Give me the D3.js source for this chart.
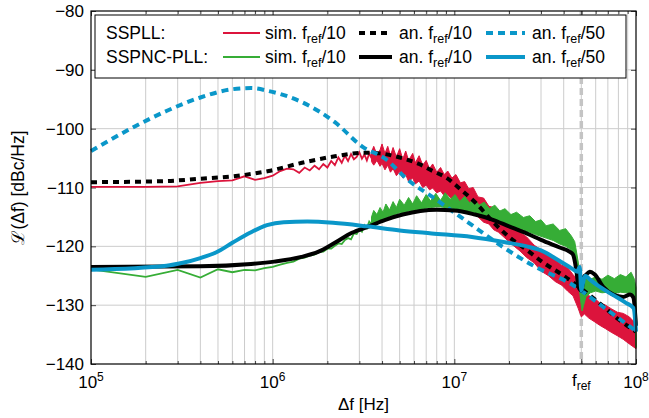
<!DOCTYPE html>
<meta charset="utf-8">
<script src="https://d3js.org/d3.v7.min.js"></script>
<style>
  body { margin: 0; background: #fff; }
  text { font-family: "Liberation Sans", Arial, sans-serif; fill: #000; }
</style>
<div id="my_dataviz"></div>
<script>

// ---- data ----
var fref = 5e7;

// axis ticks
var yTicks = [-140, -130, -120, -110, -100, -90, -80];
var xDecades = [1e5, 1e6, 1e7, 1e8];
var xExp = ["5", "6", "7", "8"];

// SSPLL, analytic, fref/50 (blue dashed)
var fBlueDash = [1e5, 1.7e5, 2.6e5, 4e5, 6e5, 7.6e5, 9.5e5, 1.45e6, 2.2e6, 3.1e6, 4.2e6, 5.5e6, 7.9e6, 1.2e7, 1.85e7, 2.8e7, 4.4e7, 6.6e7, 1e8];
var blueDash  = [-103.8, -99.8, -97.0, -94.7, -93.3, -93.1, -93.6, -95.5, -98.9, -103.0, -105.2, -108.6, -112.0, -116.0, -120.1, -123.5, -126.4, -130.3, -134.4];

// SSPLL, analytic, fref/10 (black dashed)
var fBlackDash = [1e5, 2.6e5, 4e5, 6e5, 9.5e5, 1.45e6, 2.2e6, 3.2e6, 3.9e6, 4.6e6, 5.4e6, 6.4e6, 7.6e6, 9e6, 1.1e7, 1.3e7, 1.65e7, 2e7, 2.5e7, 3.1e7, 4e7, 5e7, 6.5e7, 8e7, 1e8];
var blackDash  = [-109.1, -108.9, -108.5, -108.1, -107.2, -105.8, -104.7, -104.1, -104.2, -104.6, -105.2, -106.0, -107.2, -108.3, -110.5, -112.5, -116.0, -118.4, -120.6, -122.8, -125.0, -127.2, -130.0, -132.4, -134.5];

// SSPNC-PLL, analytic, fref/10 (black solid)
var fBlackSolid = [1e5, 4e5, 7.6e5, 1.02e6, 1.44e6, 1.79e6, 2.2e6, 2.73e6, 3.39e6, 4.17e6, 5.2e6, 6.5e6, 8e6, 1e7, 1.3e7, 1.6e7, 2e7, 2.5e7, 3e7, 3.8e7, 4.3e7, 4.5e7, 4.69e7, 4.83e7, 5e7, 5.15e7, 5.33e7, 5.56e7, 5.93e7, 6.59e7, 7.5e7, 8.5e7, 9.27e7, 9.67e7, 1e8];
var blackSolid  = [-123.5, -123.4, -123.0, -122.6, -121.8, -120.9, -119.4, -117.7, -116.6, -115.5, -114.6, -114.0, -113.8, -113.9, -114.6, -115.4, -116.6, -117.8, -118.9, -120.2, -120.9, -121.4, -124.0, -126.9, -127.5, -125.3, -124.8, -124.3, -124.8, -126.9, -128.2, -128.6, -128.2, -128.7, -133.5];

// SSPNC-PLL, analytic, fref/50 (blue solid)
var fBlueSolid = [1e5, 2.6e5, 3.2e5, 4e5, 4.9e5, 6e5, 7.5e5, 9.3e5, 1.15e6, 1.55e6, 2.15e6, 3.3e6, 5e6, 7.5e6, 1.25e7, 1.9e7, 2.5e7, 3e7, 3.8e7, 4.4e7, 4.75e7, 4.9e7, 5e7, 5.1e7, 5.25e7, 5.6e7, 6.06e7, 7.5e7, 8.8e7, 9.7e7, 1e8];
var blueSolid  = [-124.0, -123.3, -122.8, -122.0, -121.0, -119.4, -117.7, -116.4, -115.9, -115.8, -116.0, -116.6, -117.3, -117.8, -118.4, -119.3, -120.0, -120.7, -122.5, -123.7, -124.3, -123.5, -127.5, -126.3, -125.0, -125.7, -126.5, -128.3, -129.6, -130.5, -134.5];

// simulations, 100 kHz steps up to 3.5 MHz
var fSim = [1e5, 2e5, 3e5, 4e5, 5e5, 6e5, 7e5, 8e5, 9e5, 1.0e6, 1.1e6, 1.2e6, 1.3e6, 1.4e6, 1.5e6, 1.6e6, 1.7e6, 1.8e6, 1.9e6, 2.0e6, 2.1e6, 2.2e6, 2.3e6, 2.4e6, 2.5e6, 2.6e6, 2.7e6, 2.8e6, 2.9e6, 3.0e6, 3.1e6, 3.2e6, 3.3e6, 3.4e6, 3.5e6];
var redSim   = [-109.9, -109.9, -109.8, -109.2, -108.9, -108.8, -108.1, -108.7, -108.4, -108.0, -107.2, -106.8, -106.9, -107.5, -106.6, -107.1, -106.3, -106.9, -106.0, -106.6, -105.5, -106.2, -104.9, -105.8, -104.6, -105.5, -104.3, -105.2, -104.8, -104.0, -105.1, -104.4, -105.4, -104.2, -105.0];
var greenSim = [-123.9, -125.2, -124.0, -125.3, -123.9, -124.4, -124.0, -124.1, -123.7, -123.5, -123.1, -122.8, -122.6, -122.1, -121.9, -121.6, -121.4, -121.0, -120.9, -120.4, -120.4, -119.9, -119.5, -119.6, -118.9, -118.6, -118.8, -117.8, -117.9, -117.1, -117.5, -116.4, -116.9, -115.8, -116.3];

// simulations above 3.5 MHz: noise envelope (low / high)
var fRedBand = [3.5e6, 3.6e6, 3.75e6, 3.9e6, 4.0e6, 4.15e6, 4.3e6, 4.45e6, 4.6e6, 4.8e6, 5.0e6, 5.2e6, 5.4e6, 5.6e6, 5.9e6, 6.1e6, 6.4e6, 6.7e6, 7.0e6, 7.3e6, 7.6e6, 8.0e6, 8.4e6, 8.8e6, 9.2e6, 9.7e6, 1.02e7, 1.08e7, 1.14e7, 1.2e7, 1.27e7, 1.35e7, 1.45e7, 1.55e7, 1.65e7, 1.75e7, 1.9e7, 2.1e7, 2.3e7, 2.5e7, 2.75e7, 3e7, 3.3e7, 3.6e7, 3.9e7, 4.2e7, 4.5e7, 4.8e7, 5e7, 5.2e7, 5.5e7, 5.9e7, 6.3e7, 6.8e7, 7.3e7, 7.9e7, 8.5e7, 9.2e7, 1e8];
var redLo = [-105.6, -106.2, -105.4, -106.4, -105.9, -107.0, -106.2, -107.4, -106.8, -108.0, -107.3, -108.4, -107.8, -109.0, -108.4, -109.4, -108.9, -110.0, -109.6, -110.4, -110.1, -110.9, -110.6, -111.4, -111.2, -112.0, -111.8, -112.8, -112.9, -113.9, -114.2, -115.0, -115.9, -116.2, -117.2, -117.6, -118.6, -119.8, -120.8, -121.9, -122.8, -124.2, -125.0, -126.0, -126.6, -127.6, -128.4, -130.5, -132.0, -131.5, -132.2, -132.8, -133.4, -134.0, -134.6, -135.2, -135.8, -136.6, -137.4];
var redHi = [-104.0, -103.0, -104.4, -103.6, -102.6, -104.2, -103.0, -104.6, -103.2, -104.8, -103.4, -105.2, -103.8, -105.4, -104.2, -105.8, -104.6, -106.2, -105.4, -106.8, -106.0, -107.4, -106.6, -107.8, -107.2, -108.4, -107.8, -109.2, -109.0, -110.2, -110.0, -111.6, -111.8, -113.2, -113.4, -114.6, -115.2, -116.2, -117.6, -118.4, -119.8, -120.6, -121.6, -122.2, -123.2, -123.6, -124.8, -125.8, -128.0, -127.6, -128.4, -128.8, -129.6, -130.0, -130.6, -131.2, -131.4, -132.0, -133.2];

var fGreenBand = [3.5e6, 3.6e6, 3.75e6, 3.9e6, 4.05e6, 4.2e6, 4.4e6, 4.6e6, 4.8e6, 5.0e6, 5.3e6, 5.6e6, 5.9e6, 6.2e6, 6.6e6, 7.0e6, 7.4e6, 7.9e6, 8.4e6, 8.9e6, 9.5e6, 1.01e7, 1.07e7, 1.14e7, 1.21e7, 1.29e7, 1.37e7, 1.46e7, 1.56e7, 1.67e7, 1.78e7, 1.9e7, 2.05e7, 2.2e7, 2.4e7, 2.6e7, 2.8e7, 3.0e7, 3.2e7, 3.5e7, 3.8e7, 4.1e7, 4.4e7, 4.6e7, 4.8e7, 4.95e7, 5.05e7, 5.15e7, 5.3e7, 5.6e7, 6e7, 6.5e7, 7e7, 7.6e7, 8.2e7, 8.8e7, 9.4e7, 9.8e7, 1e8];
var greenLo = [-116.6, -116.2, -116.0, -115.6, -115.4, -115.1, -114.9, -114.7, -114.5, -114.3, -114.2, -114.0, -113.9, -113.8, -113.7, -113.5, -113.4, -113.3, -113.3, -113.4, -113.5, -113.6, -113.8, -114.0, -114.3, -114.5, -114.8, -115.0, -115.3, -115.6, -115.9, -116.2, -116.5, -116.8, -117.2, -117.6, -118.0, -118.3, -118.6, -119.0, -119.6, -120.0, -120.6, -122.0, -125.5, -129.0, -131.0, -130.0, -128.6, -127.9, -127.6, -127.9, -127.8, -128.0, -127.8, -127.9, -127.8, -128.6, -137.2];
var greenHi = [-115.0, -113.9, -114.6, -113.4, -114.2, -112.8, -113.8, -112.4, -113.4, -112.0, -113.0, -111.7, -112.8, -111.4, -112.6, -111.2, -112.3, -111.0, -112.2, -110.9, -112.0, -111.2, -112.4, -111.5, -112.6, -112.0, -113.0, -112.5, -113.6, -113.0, -114.0, -113.6, -114.6, -114.2, -115.1, -114.8, -115.8, -115.5, -116.5, -116.2, -117.3, -117.0, -118.2, -119.2, -122.5, -126.0, -128.0, -126.6, -125.4, -125.6, -125.2, -125.6, -124.9, -125.5, -124.8, -125.2, -124.4, -125.6, -127.0];

// colours
var cRed = "#dc143c", cGreen = "#36ad36", cBlue = "#0a97c9", cBlack = "#000";

// ---- chart ----
var margin = {top: 11, right: 13, bottom: 54, left: 91},
    width = 649 - margin.left - margin.right,
    height = 418 - margin.top - margin.bottom;

var svg = d3.select("#my_dataviz")
  .append("svg")
    .attr("width", width + margin.left + margin.right)
    .attr("height", height + margin.top + margin.bottom)
  .append("g")
    .attr("transform", "translate(" + margin.left + "," + margin.top + ")");

var x = d3.scaleLog().domain([1e5, 1e8]).range([0, width]);
var y = d3.scaleLinear().domain([-140, -80]).range([height, 0]);

var xAll = x.ticks();  // 1..9 x 10^k

// grid
svg.append("g").selectAll("line")
  .data(xAll.filter(function(d) { return d > 1e5 && d < 1e8; }))
  .enter().append("line")
    .attr("x1", function(d) { return x(d); }).attr("x2", function(d) { return x(d); })
    .attr("y1", 0).attr("y2", height)
    .style("stroke", "#cccccc").style("stroke-width", 1);
svg.append("g").selectAll("line")
  .data(yTicks.slice(1, -1))
  .enter().append("line")
    .attr("x1", 0).attr("x2", width)
    .attr("y1", function(d) { return y(d); }).attr("y2", function(d) { return y(d); })
    .style("stroke", "#cccccc").style("stroke-width", 1);

// fref marker
svg.append("line")
  .attr("x1", x(fref)).attr("x2", x(fref))
  .attr("y1", 0).attr("y2", height)
  .style("stroke", "#c4c4c4").style("stroke-width", 3.5)
  .style("stroke-dasharray", "7,4");

// ticks (inside)
function ticks(axis, vals, size) {
  return axis.tickValues(vals).tickSize(-size).tickFormat("");
}
var minor = xAll.filter(function(d) { return xDecades.indexOf(d) < 0; });
[[d3.axisBottom, height], [d3.axisTop, 0]].forEach(function(a) {
  var g1 = svg.append("g").attr("transform", "translate(0," + a[1] + ")").call(ticks(a[0](x), minor, 3));
  var g2 = svg.append("g").attr("transform", "translate(0," + a[1] + ")").call(ticks(a[0](x), xDecades.concat([fref]), 5));
  [g1, g2].forEach(function(g) { g.select(".domain").remove(); g.selectAll("line").style("stroke", "#444"); });
});
var gl = svg.append("g").call(ticks(d3.axisLeft(y), yTicks, 5));
var gr = svg.append("g").attr("transform", "translate(" + width + ",0)").call(ticks(d3.axisRight(y), yTicks, 5));
[gl, gr].forEach(function(g) { g.select(".domain").remove(); g.selectAll("line").style("stroke", "#444"); });

// curves
var lineS = d3.line().x(function(d) { return x(d[0]); }).y(function(d) { return y(d[1]); }).curve(d3.curveMonotoneX);
var lineL = d3.line().x(function(d) { return x(d[0]); }).y(function(d) { return y(d[1]); });
var band = d3.area().x(function(d) { return x(d[0]); }).y0(function(d) { return y(d[1]); }).y1(function(d) { return y(d[2]); });

function zip(f, v) { return f.map(function(d, i) { return [d, v[i]]; }); }
function zip3(f, a, b) { return f.map(function(d, i) { return [d, a[i], b[i]]; }); }

var plot = svg.append("g");

// simulations
plot.append("path").datum(zip3(fRedBand, redLo, redHi)).attr("d", band)
  .style("fill", cRed).style("stroke", cRed).style("stroke-width", 1);
plot.append("path").datum(zip(fSim, redSim)).attr("d", lineL)
  .style("fill", "none").style("stroke", cRed).style("stroke-width", 1.8);
plot.append("path").datum(zip3(fGreenBand, greenLo, greenHi)).attr("d", band)
  .style("fill", cGreen).style("stroke", cGreen).style("stroke-width", 1);
plot.append("path").datum(zip(fSim, greenSim)).attr("d", lineL)
  .style("fill", "none").style("stroke", cGreen).style("stroke-width", 1.8);

// analytic
var curves = [
  {f: fBlackDash, v: blackDash, c: cBlack, dash: "6,5"},
  {f: fBlueDash, v: blueDash, c: cBlue, dash: "7,5"},
  {f: fBlackSolid, v: blackSolid, c: cBlack, dash: null},
  {f: fBlueSolid, v: blueSolid, c: cBlue, dash: null}
];
curves.forEach(function(k) {
  plot.append("path").datum(zip(k.f, k.v)).attr("d", lineS)
    .style("fill", "none").style("stroke", k.c).style("stroke-width", 4)
    .style("stroke-dasharray", k.dash);
});

// frame
svg.append("rect").attr("width", width).attr("height", height)
  .style("fill", "none").style("stroke", "#000").style("stroke-width", 1.2);

// tick labels
svg.append("g").selectAll("text")
  .data(yTicks).enter().append("text")
    .attr("x", -7).attr("y", function(d) { return y(d); })
    .attr("dy", "0.36em").attr("text-anchor", "end")
    .style("font-size", "17px")
    .text(function(d) { return "\u2212" + Math.abs(d); });

xDecades.forEach(function(d, i) {
  var t = svg.append("text").attr("x", x(d)).attr("y", height + 24)
    .attr("text-anchor", "middle").style("font-size", "17px");
  t.append("tspan").text("10");
  t.append("tspan").attr("dy", -7).style("font-size", "12px").text(xExp[i]);
});
var tf = svg.append("text").attr("x", x(fref)).attr("y", height + 22)
  .attr("text-anchor", "middle").style("font-size", "17px");
tf.append("tspan").text("f");
tf.append("tspan").attr("dy", 4).style("font-size", "12px").text("ref");

// axis labels
svg.append("text").attr("x", width / 2).attr("y", height + 46)
  .attr("text-anchor", "middle").style("font-size", "17px").text("\u0394f [Hz]");
var yl = svg.append("text")
  .attr("transform", "translate(" + (-67) + "," + (height / 2) + ") rotate(-90)")
  .attr("text-anchor", "middle").style("font-size", "17.5px");
yl.append("tspan").style("font-family", "'DejaVu Serif', serif").text("\u2112");
yl.append("tspan").text("(\u0394f) [dBc/Hz]");

// legend
var lx0 = 4, ly0 = 4, rows = [22, 46];
var leg = svg.append("g");
leg.append("rect").attr("x", lx0).attr("y", ly0).attr("width", 531).attr("height", 63)
  .style("fill", "#fff").style("stroke", "#000").style("stroke-width", 1);

var legRows = ["SSPLL:", "SSPNC-PLL:"];
var legItems = [
  [{c: cRed, w: 2, dash: null, pre: "sim. f", post: "/10"},
   {c: cBlack, w: 4, dash: "6,5", pre: "an. f", post: "/10"},
   {c: cBlue, w: 4, dash: "7,5", pre: "an. f", post: "/50"}],
  [{c: cGreen, w: 2, dash: null, pre: "sim. f", post: "/10"},
   {c: cBlack, w: 4, dash: null, pre: "an. f", post: "/10"},
   {c: cBlue, w: 4, dash: null, pre: "an. f", post: "/50"}]
];
var colLine = [[132, 169], [268, 301], [395, 434]];
var colText = [174, 308, 441];

legRows.forEach(function(r, i) {
  leg.append("text").attr("x", 15).attr("y", rows[i]).attr("dy", "0.36em")
    .style("font-size", "17.5px").text(r);
  legItems[i].forEach(function(it, j) {
    leg.append("line").attr("x1", colLine[j][0]).attr("x2", colLine[j][1])
      .attr("y1", rows[i]).attr("y2", rows[i])
      .style("stroke", it.c).style("stroke-width", it.w).style("stroke-dasharray", it.dash);
    var t = leg.append("text").attr("x", colText[j]).attr("y", rows[i]).attr("dy", "0.36em")
      .style("font-size", "17.5px");
    t.append("tspan").text(it.pre);
    t.append("tspan").attr("dy", 4).style("font-size", "12.5px").text("ref");
    t.append("tspan").attr("dy", -4).text(it.post);
  });
});

</script>
